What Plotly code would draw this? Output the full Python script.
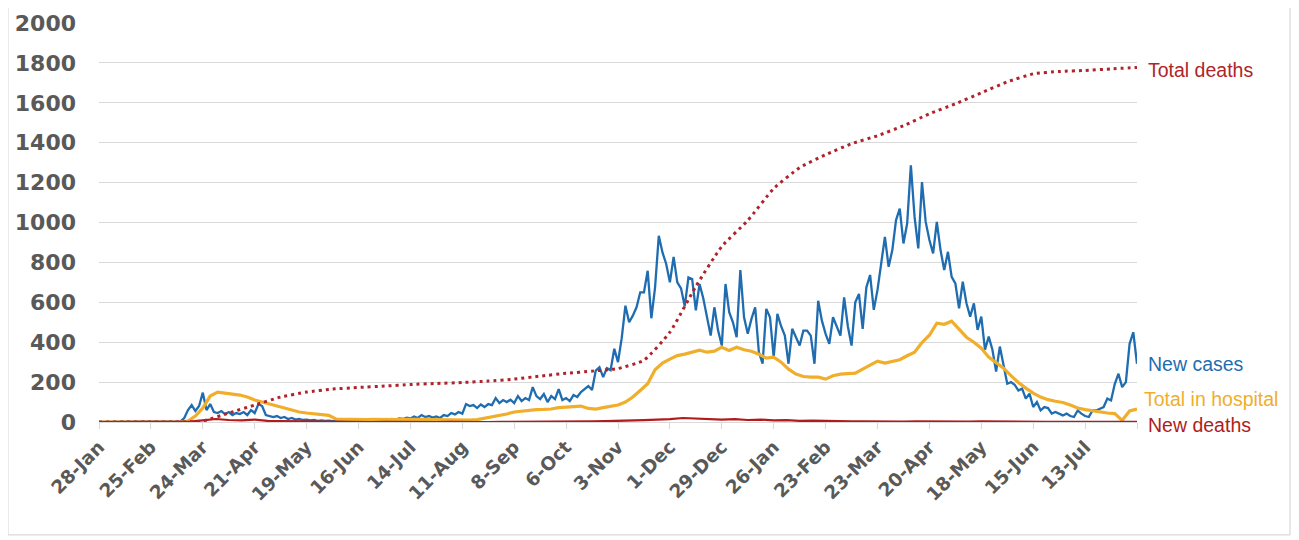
import pandas as pd
import plotly.graph_objects as go

# ---------------- data ----------------
START = "2020-01-28"

# New cases, every 2 days from 28-Jan-2020
new_cases = [
    0, 0, 0, 0, 0, 0, 0, 0, 0, 0,
    0, 0, 0, 0, 0, 0, 0, 0, 0, 0,
    0, 0, 3, 20, 60, 85, 55, 80, 147, 60,
    90, 50, 45, 55, 40, 50, 35, 45, 40, 50,
    35, 60, 45, 90, 80, 35, 30, 25, 30, 20,
    25, 15, 20, 12, 15, 10, 12, 8, 10, 6,
    8, 5, 7, 4, 6, 3, 4, 2, 5, 3,
    4, 2, 5, 5, 8, 6, 10, 12, 10, 15,
    12, 18, 15, 22, 18, 28, 20, 35, 25, 30,
    22, 28, 20, 35, 30, 45, 38, 50, 42, 90,
    80, 85, 70, 88, 75, 90, 85, 120, 95, 110,
    100, 112, 95, 130, 105, 120, 110, 175, 130, 115,
    140, 100, 130, 115, 165, 110, 120, 105, 135, 125,
    150, 165, 180, 160, 258, 275, 225, 270, 260, 367,
    300, 420, 583, 500, 533, 575, 650, 650, 758, 520,
    675, 933, 850, 792, 700, 828, 700, 670, 580, 725,
    717, 560, 692, 620, 520, 433, 575, 458, 383, 692,
    550, 500, 425, 762, 525, 442, 517, 575, 350, 292,
    567, 525, 325, 542, 480, 433, 292, 467, 425, 383,
    458, 458, 433, 292, 608, 508, 442, 392, 525, 480,
    433, 625, 480, 383, 600, 642, 467, 675, 737, 562,
    662, 795, 928, 778, 862, 1012, 1070, 895, 995, 1287,
    1028, 870, 1203, 1003, 912, 845, 1003, 862, 762, 853,
    728, 695, 570, 703, 595, 528, 595, 462, 528, 362,
    428, 362, 253, 378, 275, 192, 200, 187, 158, 167,
    117, 142, 75, 100, 58, 75, 70, 42, 50, 40,
    33, 42, 30, 25, 58, 42, 30, 25, 58, 58,
    65, 75, 117, 108, 190, 242, 175, 200, 392, 450,
    292,
]

# Total in hospital, every 4 days from 28-Jan-2020
in_hospital = [
    0, 0, 0, 0, 0, 0, 0, 0, 0, 0,
    0, 0, 5, 30, 70, 130, 150, 145, 140, 135,
    125, 110, 100, 90, 80, 70, 60, 50, 45, 40,
    38, 33, 14, 13, 12, 14, 12, 13, 12, 11,
    12, 13, 14, 12, 13, 12, 11, 10, 11, 10,
    10, 12, 18, 25, 30, 40, 50, 55, 60, 62,
    63, 65, 72, 75, 78, 80, 68, 65, 72, 78,
    85, 100, 125, 158, 192, 262, 295, 315, 333, 340,
    350, 360, 350, 355, 375, 358, 375, 362, 355, 340,
    320, 325, 300, 265, 240, 228, 225, 225, 215, 232,
    240, 242, 245, 265, 285, 305, 295, 305, 312, 332,
    350, 398, 435, 495, 490, 505, 465, 425, 400, 370,
    325, 298, 270, 232, 198, 170, 145, 125, 112, 104,
    98, 85, 70, 62, 55, 50, 45, 42, 8, 55,
    65,
]

# Total deaths, every 14 days from 28-Jan-2020
total_deaths = [
    0, 0, 0, 0, 5, 45, 85, 125, 150, 165,
    173, 180, 188, 193, 198, 205, 215, 230, 244, 255,
    268, 310, 450, 680, 880, 1010, 1170, 1275, 1340, 1395,
    1435, 1485, 1545, 1595, 1650, 1705, 1745, 1757, 1762, 1770,
    1777,
]

# New deaths, every 7 days from 28-Jan-2020
new_deaths = [
    0, 0, 0, 0, 0, 0, 0, 2, 8, 15,
    10, 8, 12, 6, 5, 4, 3, 2, 2, 1,
    1, 0, 1, 0, 1, 0, 0, 1, 0, 1,
    0, 1, 1, 0, 1, 1, 1, 2, 3, 4,
    5, 7, 9, 12, 14, 20, 18, 15, 12, 14,
    10, 12, 8, 9, 6, 7, 5, 4, 3, 3,
    2, 3, 2, 3, 2, 3, 2, 2, 3, 2,
    1, 2, 1, 1, 1, 1, 0, 1, 1, 0,
    1,
]

tick_labels = ["28-Jan", "25-Feb", "24-Mar", "21-Apr", "19-May", "16-Jun",
               "14-Jul", "11-Aug", "8-Sep", "6-Oct", "3-Nov", "1-Dec",
               "29-Dec", "26-Jan", "23-Feb", "23-Mar", "20-Apr", "18-May",
               "15-Jun", "13-Jul", ""]

series_labels = ["Total deaths", "New cases", "Total in hospital", "New deaths"]
label_y = [1765, 291, 115, 0]
label_yshift = [0, 0, 0, -3]
label_xshift = [9, 9, 5, 9]

# ---------------- figure ----------------
d_cases = pd.date_range(START, periods=len(new_cases), freq="2D")
d_hosp = pd.date_range(START, periods=len(in_hospital), freq="4D")
d_tot = pd.date_range(START, periods=len(total_deaths), freq="14D")
d_nd = pd.date_range(START, periods=len(new_deaths), freq="7D")
tick_vals = pd.date_range(START, periods=len(tick_labels), freq="28D")

C_BLUE = "#1f6db0"
C_ORANGE = "#f0ae2b"
C_RED = "#b0232a"
C_DRED = "#b01c1c"

fig = go.Figure()
fig.add_trace(go.Scatter(x=d_cases, y=new_cases, mode="lines",
                         line=dict(color=C_BLUE, width=2.3)))
fig.add_trace(go.Scatter(x=d_hosp, y=in_hospital, mode="lines",
                         line=dict(color=C_ORANGE, width=3.2)))
fig.add_trace(go.Scatter(x=d_nd, y=new_deaths, mode="lines",
                         line=dict(color=C_DRED, width=2.2)))
fig.add_trace(go.Scatter(x=d_tot, y=total_deaths, mode="lines",
                         line=dict(color=C_RED, width=3, dash="3px,4px",
                                   shape="spline", smoothing=0.5)))

label_colors = [C_RED, C_BLUE, C_ORANGE, C_DRED]
for txt, yy, col, xs, ys in zip(series_labels, label_y, label_colors,
                                label_xshift, label_yshift):
    fig.add_annotation(x=d_cases[-1], y=yy, xref="x", yref="y", text=txt,
                       showarrow=False, xanchor="left", yanchor="middle",
                       xshift=xs, yshift=ys,
                       font=dict(family="Liberation Sans, Arial, sans-serif",
                                 size=19.5, color=col))

fig.add_shape(type="rect", xref="paper", yref="paper",
              x0=-0.0877, x1=1.1474, y0=-0.283, y1=1.040,
              line=dict(color="#d0d0d0", width=1), fillcolor="rgba(0,0,0,0)")

fig.update_layout(
    width=1299, height=540,
    margin=dict(l=91, r=170, t=15, b=126),
    paper_bgcolor="white", plot_bgcolor="white",
    showlegend=False,
    font=dict(family="DejaVu Sans", color="#595959"),
)
fig.update_xaxes(
    range=[pd.Timestamp(START), tick_vals[-1]],
    tickmode="array", tickvals=tick_vals, ticktext=tick_labels,
    tickangle=-45, automargin=False,
    tickfont=dict(size=18.5, color="#595959", family="DejaVu Sans", weight="bold"),
    showgrid=False, showline=True, linecolor="#d9d9d9", linewidth=1,
    ticks="outside", ticklen=6, tickcolor="#d9d9d9", zeroline=False,
)
fig.update_yaxes(
    range=[0, 2000], dtick=200, tick0=0, automargin=False,
    tickfont=dict(size=22, color="#595959", family="DejaVu Sans", weight="bold"),
    showgrid=True, gridcolor="#d9d9d9", gridwidth=1, zeroline=False,
    ticks="", ticklabelstandoff=22,
)

fig.write_html("out.html")
